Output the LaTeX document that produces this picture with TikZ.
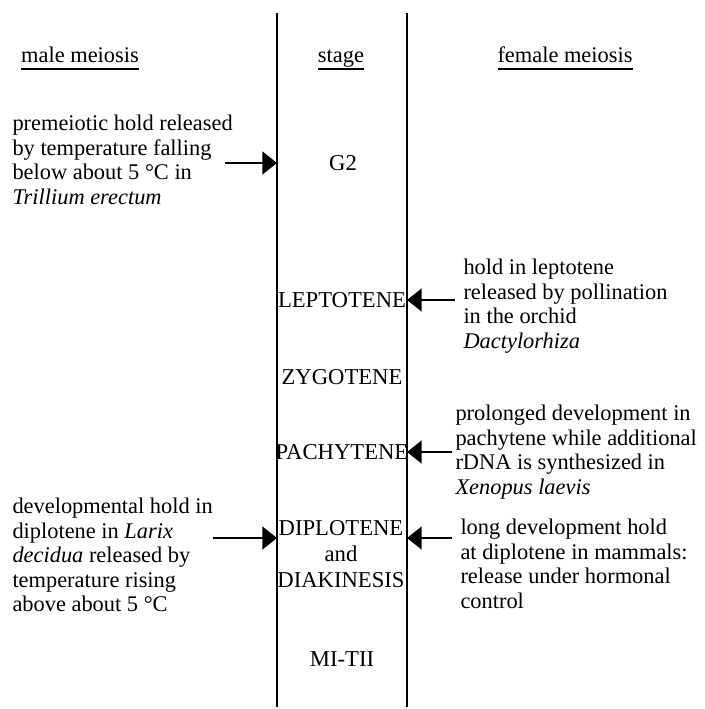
\documentclass[tikz,border=0pt]{standalone}
\usepackage{fontspec}
\setmainfont{Liberation Serif}
\usetikzlibrary{arrows.meta}

% heading underline, same depth for every heading
\newcommand{\headrule}[1]{\vtop{\hbox{\smash{#1}}\kern 3.6pt\hrule height 1.3pt}}

\tikzset{every picture/.style={line width=0.75pt}}
\tikzset{
	txt/.style={font=\fontsize{16.8}{18.4}\selectfont, inner sep=0pt, align=left, anchor=west},
	stagelbl/.style={font=\fontsize{17}{19.5}\selectfont, inner sep=0pt, align=center},
	head/.style={font=\fontsize{16.8}{18.4}\selectfont, inner sep=0pt, anchor=base},
	rule/.style={line width=1.5pt},
	hold/.style={line width=2pt, -{Triangle[length=11pt,width=17pt]}},
}

\begin{document}
\begin{tikzpicture}[x=0.75pt,y=0.75pt,yscale=-1,xscale=1]
	\useasboundingbox (0,0) rectangle (704,709);

	%Column rules
	\coordinate (lrule) at (277,13);
	\coordinate (rrule) at (407,13);
	\draw [rule] (lrule) -- (277,707);
	\draw [rule] (rrule) -- (407,707);

	% Headings
	\node [head] (male) at (80,63) {\headrule{male meiosis}};
	\node [head] (stage) at (341,63) {\headrule{stage}};
	\node [head] (female) at (565,63) {\headrule{female meiosis}};

	% Stages
	\node [stagelbl] (g2) at (343,163) {G2};
	\node [stagelbl] (lepto) at (342,300) {LEPTOTENE};
	\node [stagelbl] (zygo) at (342,377) {ZYGOTENE};
	\node [stagelbl] (pachy) at (342,452) {PACHYTENE};
	\node [stagelbl] (diplo) at (341,554) {DIPLOTENE\\and\\DIAKINESIS};
	\node [stagelbl] (mitii) at (342,659) {MI-TII};

	% Male side
	\node [txt] (premei) at (12,160) {premeiotic hold released\\by temperature falling\\below about 5 °C in\\\textit{Trillium erectum}};
	\node [txt] (larix) at (12,555) {developmental hold in\\diplotene in \textit{Larix}\\\textit{decidua} released by\\temperature rising\\above about 5 °C};

	% Female side
	\node [txt] (orchid) at (463,306) {hold in leptotene\\released by pollination\\in the orchid\\\textit{Dactylorhiza}};
	\node [txt] (xenop) at (455,452) {prolonged development in\\pachytene while additional\\rDNA is synthesized in\\\textit{Xenopus laevis}};
	\node [txt] (mammal) at (460,564) {long development hold\\at diplotene in mammals:\\release under hormonal\\control};

	% Arrows
	\coordinate (a1) at (225,163);
	\coordinate (a2) at (213,538);
	\coordinate (b1) at (455,300);
	\coordinate (b2) at (452,452);
	\coordinate (b3) at (452,538);
	\draw [hold] (a1) -- (a1 -| lrule);
	\draw [hold] (a2) -- (a2 -| lrule);
	\draw [hold] (b1) -- (b1 -| rrule);
	\draw [hold] (b2) -- (b2 -| rrule);
	\draw [hold] (b3) -- (b3 -| rrule);

\end{tikzpicture}
\end{document}
